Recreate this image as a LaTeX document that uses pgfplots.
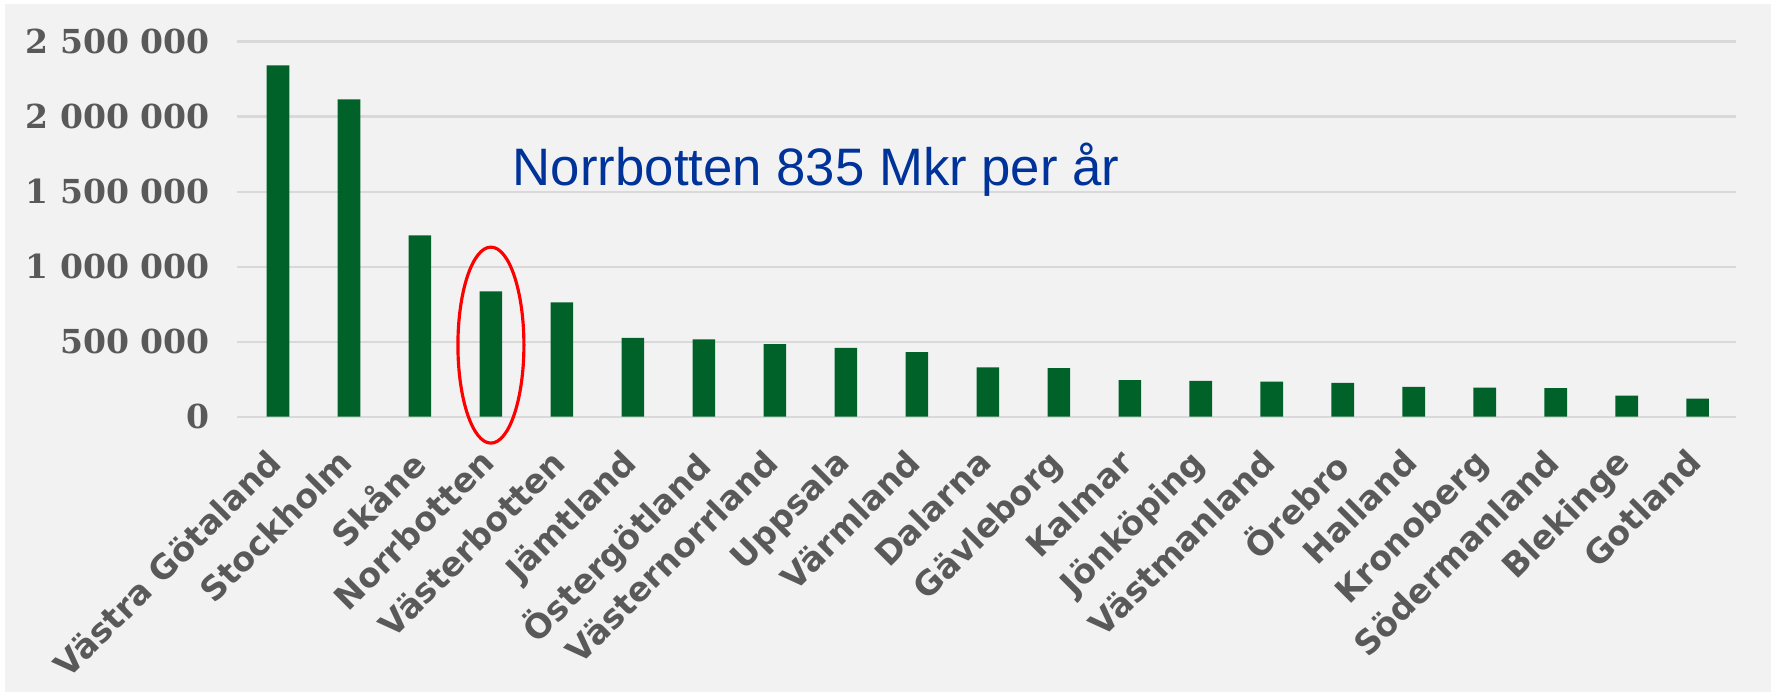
\documentclass[border=0pt]{standalone}
\usepackage{fontspec}
\usepackage{pgfplots}
\pgfplotsset{compat=1.18}
\setmainfont{Liberation Sans}
\newfontfamily\lblfont{DejaVu Sans}
\newfontfamily\numfont{DejaVu Serif}
\definecolor{barg}{RGB}{0,98,41}
\definecolor{bgg}{RGB}{242,242,242}
\definecolor{gridg}{RGB}{217,217,217}
\definecolor{txtg}{RGB}{89,89,89}
\definecolor{annob}{RGB}{0,51,153}

\begin{document}
\begin{tikzpicture}
\fill[white] (0,0) rectangle (177.3mm,69.5mm);
\fill[bgg] (0.5mm,0.3mm) rectangle (177.1mm,69.1mm);
\begin{axis}[
  at={(23.7mm,27.83mm)}, anchor=south west,
  scale only axis, width=149.9mm, height=37.52mm,
  xmin=-0.577, xmax=20.54, ymin=0, ymax=2500000,
  axis line style={draw=none},
  major tick length=0pt,
  scaled y ticks=false,
  ymajorgrids, grid style={gridg, line width=0.6pt},
  ytick={0,500000,1000000,1500000,2000000,2500000},
  yticklabels={0,500 000,1 000 000,1 500 000,2 000 000,2 500 000},
  yticklabel style={font=\numfont\bfseries\fontsize{9.4}{11}\selectfont, text=txtg, xshift=-1.5mm},
  xtick=data,
  xticklabels={Västra Götaland,Stockholm,Skåne,Norrbotten,Västerbotten,Jämtland,Östergötland,Västernorrland,Uppsala,Värmland,Dalarna,Gävleborg,Kalmar,Jönköping,Västmanland,Örebro,Halland,Kronoberg,Södermanland,Blekinge,Gotland},
  xticklabel style={font=\lblfont\bfseries\fontsize{9.5}{11}\selectfont, text=txtg, rotate=45, anchor=north east, yshift=0mm, xshift=-1.8mm},
  clip=false,
]
\addplot[ybar, bar width=2.26mm, fill=barg, draw=none] coordinates {
  (0,2341000) (1,2114000) (2,1209000) (3,835000) (4,761000) (5,526000)
  (6,515000) (7,484000) (8,459000) (9,431000) (10,329000) (11,324000)
  (12,244000) (13,238000) (14,233000) (15,226000) (16,198000) (17,193000)
  (18,191000) (19,140000) (20,120000)};
\draw[red, line width=0.9pt] (axis cs:3,477000) ellipse [x radius=3.3mm, y radius=9.8mm];
\node[anchor=base west, inner sep=0pt, text=annob, font=\fontsize{15}{18}\selectfont] at (axis cs:3.30,1542000) {Norrbotten 835 Mkr per år};
\end{axis}
\pgfresetboundingbox
\useasboundingbox (0,0) rectangle (177.3mm,69.5mm);
\end{tikzpicture}
\end{document}
